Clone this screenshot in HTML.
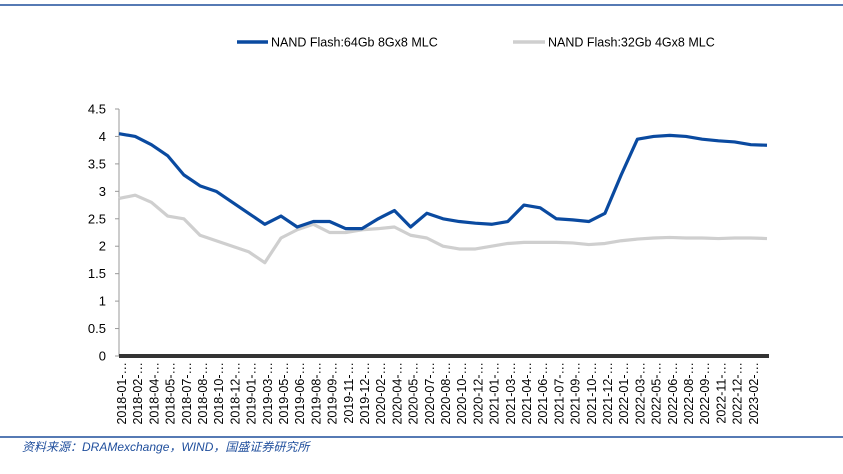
<!DOCTYPE html>
<html><head><meta charset="utf-8"><style>
body{margin:0;background:#fff;width:843px;height:469px;overflow:hidden;font-family:"Liberation Sans",sans-serif}
</style></head><body>
<svg width="843" height="469" id="c">
<line x1="0" y1="5" x2="843" y2="5" stroke="#1f4e9c" stroke-width="1.5"/>
<g>
<line x1="237" y1="42" x2="268" y2="42" stroke="#0a4aa0" stroke-width="3.5"/>
<text x="271" y="46.5" font-size="12.5" fill="#000">NAND Flash:64Gb 8Gx8 MLC</text>
<line x1="513" y1="42" x2="545" y2="42" stroke="#cfcfcf" stroke-width="3.5"/>
<text x="548" y="46.5" font-size="12.5" fill="#000">NAND Flash:32Gb 4Gx8 MLC</text>
</g>
<g id="axes"></g>
<g id="series"></g>
<line x1="0" y1="437" x2="843" y2="437" stroke="#1f4e9c" stroke-width="1.5"/>
<text x="22" y="451" font-size="12" font-style="italic" fill="#1f4e9c" font-family="'Liberation Sans','Noto Sans CJK SC',sans-serif">资料来源：DRAMexchange，WIND，国盛证券研究所</text>
</svg>
<script>
const categories=["2018-01","2018-02","2018-04","2018-05","2018-07","2018-08","2018-10","2018-12","2019-01","2019-03","2019-05","2019-06","2019-08","2019-09","2019-11","2019-12","2020-02","2020-04","2020-05","2020-07","2020-08","2020-10","2020-12","2021-01","2021-03","2021-04","2021-06","2021-07","2021-09","2021-10","2021-12","2022-01","2022-03","2022-05","2022-06","2022-08","2022-09","2022-11","2022-12","2023-02","2023-03"];
const series64=[4.05,4.0,3.85,3.65,3.3,3.1,3.0,2.8,2.6,2.4,2.55,2.35,2.45,2.45,2.32,2.32,2.5,2.65,2.35,2.6,2.5,2.45,2.42,2.4,2.45,2.75,2.7,2.5,2.48,2.45,2.6,3.3,3.95,4.0,4.02,4.0,3.95,3.92,3.9,3.85,3.84];
const series32=[2.87,2.93,2.8,2.55,2.5,2.2,2.1,2.0,1.9,1.7,2.15,2.3,2.4,2.25,2.25,2.3,2.32,2.35,2.2,2.15,2.0,1.95,1.95,2.0,2.05,2.07,2.07,2.07,2.06,2.03,2.05,2.1,2.13,2.15,2.16,2.15,2.15,2.14,2.15,2.15,2.14];
const yTicks=["0","0.5","1","1.5","2","2.5","3","3.5","4","4.5"];
const NS="http://www.w3.org/2000/svg";
const x0=119,x1=767,yb=356,yt=109,ymax=4.5;
const n=categories.length;
function X(i){return x0+(x1-x0)*i/(n-1);}
function Y(v){return yb-(yb-yt)*v/ymax;}
function mk(t,a,p){const e=document.createElementNS(NS,t);for(const k in a)e.setAttribute(k,a[k]);p.appendChild(e);return e;}
const ax=document.getElementById('axes');
const yl=mk('line',{x1:x0,y1:yt,x2:x0,y2:yb,stroke:'#999'},ax);


yTicks.forEach(t=>{const v=parseFloat(t);const y=Y(v);
 const tk=mk('line',{x1:x0-4,y1:y,x2:x0,y2:y,stroke:'#999'},ax);
 
 
 const tx=mk('text',{x:x0-13,y:y+4.5,'font-size':13,'text-anchor':'end',fill:'#000'},ax);tx.textContent=t;
 
 
});
const xb=mk('rect',{x:x0,y:yb-2,width:x1-x0+2,height:4,fill:'#333'},ax);


categories.forEach((c,i)=>{if(i>=n-1)return;const x=x0+16.2*i+7;
 const tx=mk('text',{x:0,y:0,'font-size':12.5,'text-anchor':'end',fill:'#000',transform:`translate(${x},${yb+6}) rotate(-90)`},ax);tx.textContent=c+"-…";
 
 
});
const sg=document.getElementById('series');
function line(d,col,name){const p=mk('polyline',{points:d.map((v,i)=>X(i)+','+Y(v)).join(' '),fill:'none',stroke:col,'stroke-width':3.2,'stroke-linejoin':'round'},sg);
 
 }
line(series32,'#cfcfcf','series-32gb-line');
line(series64,'#0a4aa0','series-64gb-line');
</script>
</body></html>
